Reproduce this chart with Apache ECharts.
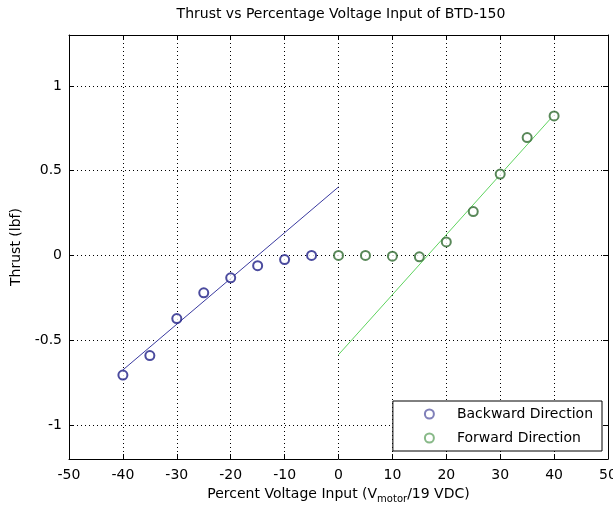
<!DOCTYPE html>
<html>
<head>
<meta charset="utf-8">
<script src="https://cdn.jsdelivr.net/npm/echarts@6/dist/echarts.min.js"></script>
<style>html,body{margin:0;padding:0;background:#fff;overflow:hidden;}#c{position:absolute;left:0;top:0;width:613px;height:508px;}</style>
</head>
<body>
<div id="c"></div>
<script>
// ---- data ----
var backwardX = [-40, -35, -30, -25, -20, -15, -10, -5];
var backwardY = [-0.705, -0.59, -0.372, -0.22, -0.132, -0.06, -0.024, 0.0];
var forwardX = [0, 5, 10, 15, 20, 25, 30, 35, 40];
var forwardY = [0.0, 0.0, -0.004, -0.008, 0.08, 0.259, 0.48, 0.695, 0.823];
var backwardFitX = [-40, 0];
var backwardFitY = [-0.675, 0.404];
var forwardFitX = [0, 40];
var forwardFitY = [-0.585, 0.83];
var xTicks = [-50, -40, -30, -20, -10, 0, 10, 20, 30, 40, 50];
var yTicks = [-1, -0.5, 0, 0.5, 1];

function pairs(xs, ys) { return xs.map(function (x, i) { return [x, ys[i]]; }); }

var FONT = 'DejaVu Sans, sans-serif';
var dotted = { color: '#000', width: 1, type: [1, 3] };

var chart = echarts.init(document.getElementById('c'), null, { renderer: 'canvas', width: 613, height: 508 });
var option = {
  backgroundColor: '#fff',
  animation: false,
  title: {
    text: 'Thrust vs Percentage Voltage Input of BTD-150',
    left: 336, top: 2, textAlign: 'center',
    textStyle: { fontFamily: FONT, fontSize: 14, fontWeight: 'normal', color: '#000' }
  },
  grid: { left: 69, right: 5, top: 35, bottom: 49, containLabel: false, outerBoundsMode: 'none' },
  legend: {
    orient: 'vertical',
    right: 11, top: 401,
    padding: [6, 9, 6, 31],
    itemGap: 10,
    itemWidth: 9, itemHeight: 9,
    backgroundColor: '#fff',
    borderColor: '#000', borderWidth: 1, borderRadius: 0,
    textStyle: { fontFamily: FONT, fontSize: 14, color: '#000', padding: [0, 0, 0, 18] },
    data: [
      { name: 'Backward Direction', icon: 'emptyCircle', itemStyle: { color: '#6060a8', borderColor: '#6060a8', borderWidth: 1 } },
      { name: 'Forward Direction', icon: 'emptyCircle', itemStyle: { color: '#6aa86a', borderColor: '#6aa86a', borderWidth: 1 } }
    ]
  },
  xAxis: [
    {
      type: 'value', position: 'bottom', min: -50, max: 50, interval: 10,
      name: 'Percent Voltage Input (V{sub|motor}/19 VDC)',
      nameLocation: 'middle', nameGap: 26,
      nameTextStyle: {
        fontFamily: FONT, fontSize: 14, color: '#000',
        rich: { sub: { fontFamily: FONT, fontSize: 10, color: '#000', padding: [9, 0, 0, 0] } }
      },
      axisLine: { onZero: false, lineStyle: { color: '#000', width: 1 } },
      axisTick: { inside: true, length: 5, lineStyle: { color: '#000' } },
      axisLabel: { fontFamily: FONT, fontSize: 14, color: '#000', margin: 9 },
      splitLine: { show: true, lineStyle: dotted }
    },
    {
      type: 'value', position: 'top', min: -50, max: 50, interval: 10,
      axisLine: { onZero: false, lineStyle: { color: '#000', width: 1 } },
      axisTick: { inside: true, length: 5, lineStyle: { color: '#000' } },
      axisLabel: { show: false },
      splitLine: { show: false }
    }
  ],
  yAxis: [
    {
      type: 'value', position: 'left', min: -1.2, max: 1.3,
      name: 'Thrust (lbf)', nameLocation: 'middle', nameGap: 29,
      nameTextStyle: { fontFamily: FONT, fontSize: 14, color: '#000' },
      axisLine: { onZero: false, lineStyle: { color: '#000', width: 1 } },
      axisTick: { inside: true, length: 5, lineStyle: { color: '#000' }, customValues: yTicks },
      axisLabel: { fontFamily: FONT, fontSize: 14, color: '#000', margin: 7, customValues: yTicks },
      splitLine: { show: true, lineStyle: dotted }
    },
    {
      type: 'value', position: 'right', min: -1.2, max: 1.3,
      axisLine: { onZero: false, lineStyle: { color: '#000', width: 1 } },
      axisTick: { inside: true, length: 5, lineStyle: { color: '#000' }, customValues: yTicks },
      axisLabel: { show: false, customValues: yTicks },
      splitLine: { show: false }
    }
  ],
  series: [
    {
      name: 'Backward Fit', type: 'line', silent: true, symbol: 'none',
      data: pairs(backwardFitX, backwardFitY),
      lineStyle: { color: '#3a3aa0', width: 1 }, z: 2
    },
    {
      name: 'Forward Fit', type: 'line', silent: true, symbol: 'none',
      data: pairs(forwardFitX, forwardFitY),
      lineStyle: { color: '#5fd45f', width: 1 }, z: 2
    },
    {
      name: 'Backward Direction', type: 'scatter', symbol: 'emptyCircle', symbolSize: 9,
      data: pairs(backwardX, backwardY),
      itemStyle: { color: '#1e1e86', borderColor: '#1e1e86', borderWidth: 1.3 }, z: 3
    },
    {
      name: 'Forward Direction', type: 'scatter', symbol: 'emptyCircle', symbolSize: 9,
      data: pairs(forwardX, forwardY),
      itemStyle: { color: '#2f6a2f', borderColor: '#2f6a2f', borderWidth: 1.3 }, z: 3
    }
  ]
};
chart.setOption(option);
</script>
</body>
</html>
